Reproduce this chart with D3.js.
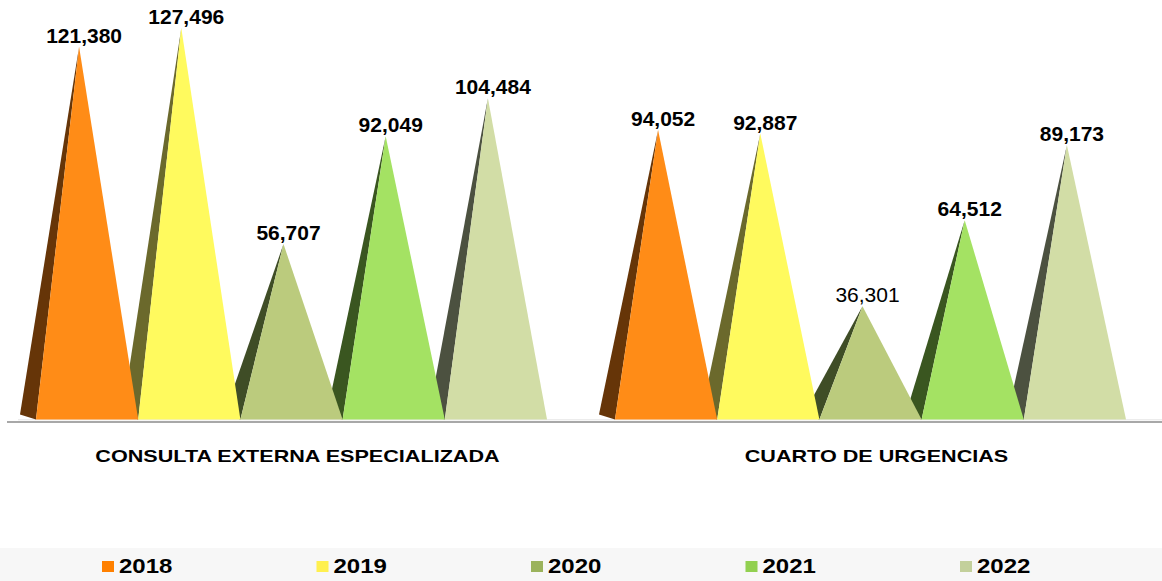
<!DOCTYPE html>
<html>
<head>
<meta charset="utf-8">
<script src="https://cdn.jsdelivr.net/npm/d3@7"></script>
<style>
  html, body { margin: 0; padding: 0; background: #ffffff; }
  svg { display: block; font-family: "Liberation Sans", Arial, sans-serif; }
</style>
</head>
<body>
<svg id="chart" width="1162" height="581"></svg>
<script>
// ---- data ----
const categories = ["CONSULTA EXTERNA ESPECIALIZADA", "CUARTO DE URGENCIAS"];
const years = ["2018", "2019", "2020", "2021", "2022"];
const values2018 = [121380, 94052];
const values2019 = [127496, 92887];
const values2020 = [56707, 36301];
const values2021 = [92049, 64512];
const values2022 = [104484, 89173];
const labelBold = [[true, true], [true, true], [true, false], [true, true], [true, true]];

const seriesValues = [values2018, values2019, values2020, values2021, values2022];
const frontColors = ["#FF8C17", "#FFFA5E", "#BBCB7D", "#A4E263", "#D2DDA6"];
const sideColors  = ["#663508", "#6B692C", "#3F4D26", "#3A5620", "#4C5140"];
const legendColors = ["#FF8000", "#FFF04F", "#9BB35C", "#92D050", "#C3D09B"];

const svg = d3.select("#chart");
const W = 1162, H = 581;

const baseY = 419.5;      // front edge of floor
const depthX = -16, depthY = -5;  // perspective offset of pyramid depth

const x0 = d3.scaleBand().domain(categories).range([2, 1160])
  .paddingInner(0.1174).paddingOuter(0.0587);
const x1 = d3.scaleBand().domain(years).range([0, x0.bandwidth()]).padding(0);
const y = d3.scaleLinear().domain([0, 140000])
  .range([baseY + depthY / 2, baseY + depthY / 2 - 140000 * 0.003051]);

// floor
svg.append("line").attr("x1", 7).attr("x2", W).attr("y1", 422).attr("y2", 422)
  .attr("stroke", "#a8a8a8").attr("stroke-width", 2);
svg.append("line").attr("x1", 18).attr("x2", W).attr("y1", 419.8).attr("y2", 419.8)
  .attr("stroke", "#e4e4e4").attr("stroke-width", 1);

// build pyramid records
const pyramids = [];
categories.forEach((c, ci) => {
  years.forEach((yr, si) => {
    const left = x0(c) + x1(yr);
    const w = x1.bandwidth();
    const v = seriesValues[si][ci];
    pyramids.push({
      c, yr, si, ci, v,
      left, right: left + w,
      apexX: left + w / 2 + depthX / 2,
      apexY: y(v)
    });
  });
});

const gSide = svg.append("g");
const gFront = svg.append("g");

gSide.selectAll("path").data(pyramids).join("path")
  .attr("d", d => `M${d.left},${baseY} L${d.left + depthX},${baseY + depthY} L${d.apexX},${d.apexY} Z`)
  .attr("fill", d => sideColors[d.si]);

gFront.selectAll("path").data(pyramids).join("path")
  .attr("d", d => `M${d.left},${baseY} L${d.right},${baseY} L${d.apexX},${d.apexY} Z`)
  .attr("fill", d => frontColors[d.si]);

// value labels
svg.append("g").selectAll("text").data(pyramids).join("text")
  .attr("x", d => d.apexX + 5)
  .attr("y", d => d.apexY - 4)
  .attr("text-anchor", "middle")
  .attr("font-size", 21)
  .attr("font-weight", d => labelBold[d.si][d.ci] ? "bold" : "normal")
  .attr("fill", "#000")
  .text(d => d3.format(",")(d.v));

// category labels
const catText = svg.append("g").selectAll("text").data(categories).join("text")
  .attr("x", c => x0(c) + x0.bandwidth() / 2 + 6)
  .attr("y", 462)
  .attr("text-anchor", "middle")
  .attr("font-size", 17)
  .attr("font-weight", "bold")
  .attr("fill", "#000")
  .text(c => c);
catText.each(function () {
  const len = this.getComputedTextLength();
  d3.select(this).attr("textLength", len * 1.27).attr("lengthAdjust", "spacingAndGlyphs");
});

// legend
svg.append("rect").attr("x", 0).attr("y", 548).attr("width", W).attr("height", H - 548)
  .attr("fill", "#f7f7f7");
const lx = d3.scaleBand().domain(years).range([102, 102 + 214.5 * years.length]);
const lg = svg.append("g").selectAll("g").data(years).join("g")
  .attr("transform", d => `translate(${lx(d)},0)`);
lg.append("rect").attr("x", 0).attr("y", 561).attr("width", 12).attr("height", 11)
  .attr("fill", (d, i) => legendColors[i]);
const lt = lg.append("text").attr("x", 17).attr("y", 573)
  .attr("font-size", 20).attr("font-weight", "bold").attr("fill", "#000")
  .text(d => d);
lt.each(function () {
  const len = this.getComputedTextLength();
  d3.select(this).attr("textLength", len * 1.2).attr("lengthAdjust", "spacingAndGlyphs");
});
</script>
</body>
</html>
